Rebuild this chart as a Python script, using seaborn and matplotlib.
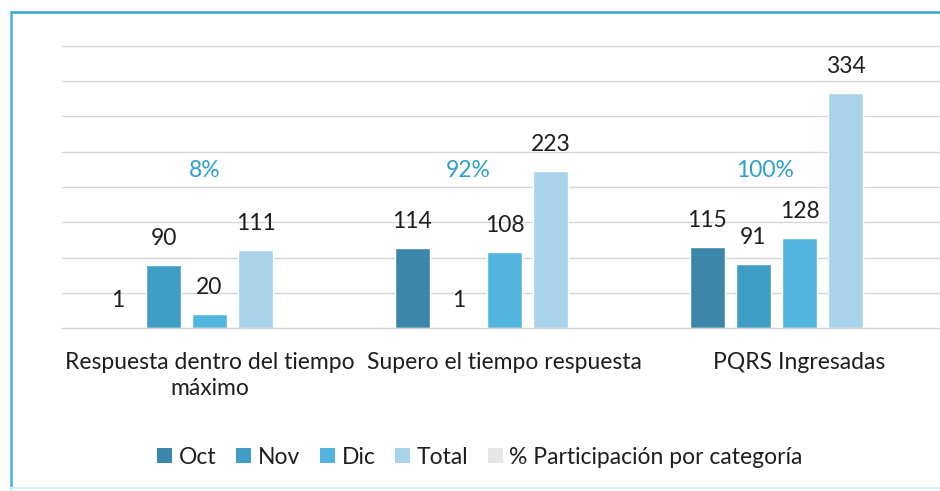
import matplotlib
matplotlib.use("Agg")
import matplotlib.pyplot as plt
import seaborn as sns
import pandas as pd
from matplotlib.lines import Line2D
from matplotlib.patches import Patch

# ---- data ----
categories = ["Respuesta dentro del tiempo\nmáximo", "Supero el tiempo respuesta", "PQRS Ingresadas"]
series_names = ["Oct", "Nov", "Dic", "Total", "% Participación por categoría"]
oct_vals = [1, 114, 115]
nov_vals = [90, 1, 91]
dic_vals = [20, 108, 128]
total_vals = [111, 223, 334]
pct_vals = [0.08, 0.92, 1.00]
pct_labels = ["8%", "92%", "100%"]

colors = ["#3a87aa", "#3f9dc6", "#52b5df", "#a9d3eb", "#e6e6e6"]

rows = []
for name, vals in zip(series_names, [oct_vals, nov_vals, dic_vals, total_vals, pct_vals]):
    for c, v in zip(categories, vals):
        rows.append({"cat": c, "serie": name, "value": v})
df = pd.DataFrame(rows)

sns.set_theme(style="white")
plt.rcParams["font.family"] = ["Lato", "DejaVu Sans"]

FS = 16.5
TXT = "#1e1e1e"

W, H = 940, 491
fig = plt.figure(figsize=(W / 100, H / 100), dpi=100)
fig.patch.set_facecolor("white")
ax = fig.add_axes([62 / W, (H - 328) / H, 885 / W, (328 - 46) / H])

sns.barplot(data=df, x="cat", y="value", hue="serie", hue_order=series_names,
            order=categories, palette=colors, width=0.78, gap=0.24,
            saturation=1, legend=False, ax=ax)

ax.set_ylim(0, 400)
ax.set_xlim(-0.5, 2.5)
ax.set_yticks(range(50, 401, 50))
ax.set_yticklabels([])
ax.yaxis.grid(True, color="#d6d6d6", linewidth=1.0)
ax.set_axisbelow(True)
for s in ["left", "right", "top"]:
    ax.spines[s].set_visible(False)
ax.spines["bottom"].set_color("#cfcfcf")
ax.spines["bottom"].set_linewidth(1.0)
ax.tick_params(axis="y", length=0)
ax.tick_params(axis="x", which="major", length=0, pad=17, labelsize=FS, colors=TXT)
ax.set_xticks([-0.5, 0.5, 1.5, 2.5], minor=True)
ax.tick_params(axis="x", which="minor", length=8, color="#cfcfcf", width=1)
ax.set_xlabel("")
ax.set_ylabel("")
for t in ax.get_xticklabels():
    t.set_multialignment("center")
    t.set_linespacing(1.3)

# value labels for the four count series
for cont in ax.containers[:4]:
    for rect in cont:
        h = rect.get_height()
        ax.annotate(f"{int(round(h))}", (rect.get_x() + rect.get_width() / 2, h),
                    xytext=(0, 19), textcoords="offset points",
                    ha="center", va="center", fontsize=FS, color=TXT)

# percentage labels (manually placed like in the source)
pct_offsets = [-0.015, -0.124, -0.117]
for i, (lab, off) in enumerate(zip(pct_labels, pct_offsets)):
    ax.text(i + off, 224, lab, ha="center", va="center", fontsize=FS, color="#2d9fcd")

# legend
handles = [Patch(facecolor=c, edgecolor="none") for c in colors]
fig.legend(handles, series_names, loc="center", bbox_to_anchor=(480 / W, 1 - 457 / H),
           ncol=5, frameon=False, fontsize=FS, handlelength=0.65, handleheight=0.65,
           handletextpad=0.3, columnspacing=0.85, labelcolor=TXT)

# outer frame of the scanned chart
fig.add_artist(Line2D([11 / W, 1.0], [1 - 12 / H, 1 - 12 / H], color="#32a5d6", lw=1.8))
fig.add_artist(Line2D([11 / W, 11 / W], [3 / H, 1 - 12 / H], color="#4aaee0", lw=1.8))
fig.add_artist(Line2D([11 / W, 1.0], [3 / H, 3 / H], color="#d8eef5", lw=1.5))

fig.savefig("out.png", dpi=100, facecolor="white")
